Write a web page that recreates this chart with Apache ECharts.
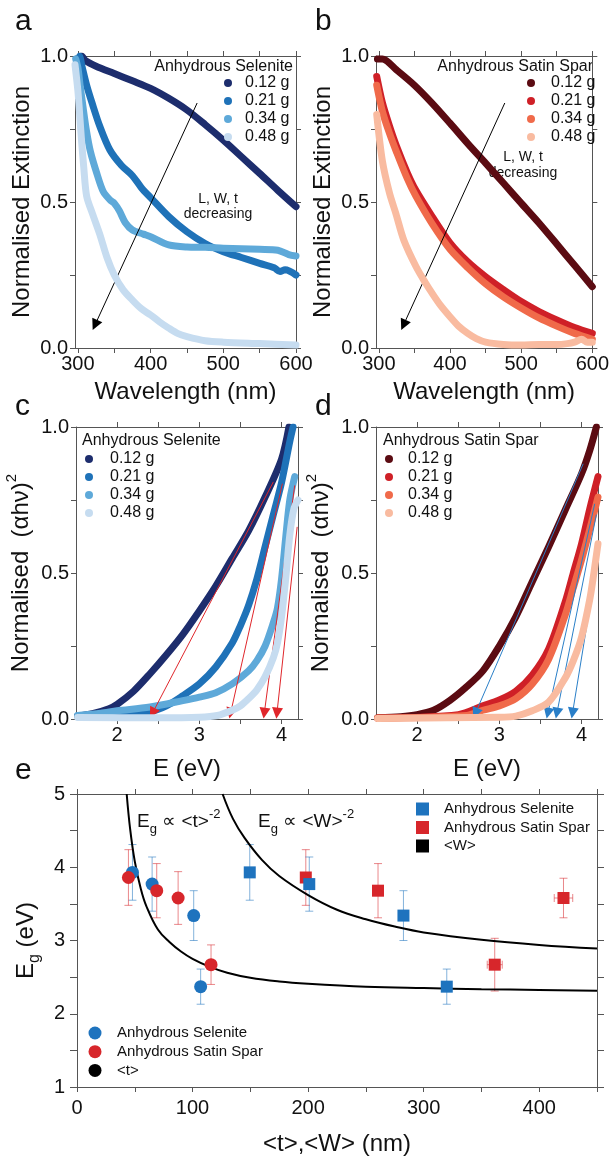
<!DOCTYPE html>
<html><head><meta charset="utf-8">
<script src="https://cdn.jsdelivr.net/npm/echarts@6/dist/echarts.min.js"></script>
<style>html,body{margin:0;padding:0;background:#fff}#c{width:612px;height:1157px}</style>
</head><body><div id="c"></div><script>
// ---------------- data ----------------
const MASSES = ['0.12 g', '0.21 g', '0.34 g', '0.48 g'];
const SEL_COLORS = ['#1d2d6d', '#1f72b8', '#5ea9d9', '#c6dcf0'];
const SPAR_COLORS = ['#5b0b12', '#cf2027', '#f06a4a', '#f9bba0'];

// panel a : Anhydrous Selenite extinction vs wavelength
const A_012 = [[300,0.99],[305,1.0],[310,0.985],[325,0.965],[350,0.94],[375,0.915],[400,0.889],[425,0.855],[450,0.815],[475,0.765],[500,0.712],[525,0.655],[550,0.598],[575,0.54],[600,0.484]];
const A_021 = [[298,0.97],[302,1.0],[306,0.96],[312,0.9],[320,0.835],[330,0.76],[344,0.678],[360,0.625],[375,0.59],[387,0.55],[400,0.515],[425,0.45],[450,0.398],[475,0.358],[500,0.33],[525,0.31],[550,0.29],[570,0.275],[578,0.262],[585,0.268],[600,0.25]];
const A_034 = [[297,0.99],[300,0.96],[303,0.9],[307,0.826],[312,0.74],[317,0.675],[326,0.598],[335,0.535],[345,0.505],[350,0.496],[357,0.47],[365,0.43],[375,0.404],[390,0.39],[400,0.381],[425,0.353],[450,0.346],[475,0.345],[500,0.342],[525,0.34],[550,0.338],[575,0.335],[590,0.32],[600,0.315]];
const A_048 = [[296,0.97],[300,0.88],[303,0.78],[305,0.71],[308,0.62],[312,0.52],[320,0.46],[330,0.39],[340,0.31],[350,0.25],[362,0.2],[375,0.164],[387,0.135],[400,0.113],[412,0.09],[425,0.068],[437,0.05],[450,0.039],[475,0.025],[500,0.02],[550,0.015],[600,0.01]];
// panel b : Anhydrous Satin Spar extinction vs wavelength
const B_012 = [[298,0.99],[305,0.99],[325,0.952],[350,0.9],[375,0.838],[400,0.77],[425,0.70],[450,0.633],[475,0.565],[500,0.496],[525,0.428],[550,0.356],[575,0.283],[600,0.21]];
const B_021 = [[297,0.93],[305,0.84],[315,0.76],[325,0.69],[340,0.6],[352,0.54],[375,0.45],[400,0.36],[425,0.295],[450,0.244],[475,0.2],[500,0.159],[525,0.125],[550,0.096],[575,0.07],[600,0.05]];
const B_034 = [[297,0.9],[305,0.81],[315,0.735],[325,0.67],[340,0.58],[352,0.52],[375,0.425],[400,0.338],[425,0.275],[450,0.22],[475,0.175],[500,0.137],[525,0.103],[550,0.075],[575,0.05],[600,0.03]];
const B_048 = [[297,0.80],[305,0.64],[315,0.53],[324,0.46],[335,0.37],[352,0.28],[365,0.225],[375,0.187],[387,0.145],[400,0.107],[412,0.075],[425,0.05],[437,0.032],[450,0.02],[475,0.012],[500,0.01],[525,0.012],[550,0.012],[565,0.015],[575,0.02],[585,0.03],[593,0.02],[600,0.02]];
// panel c : Selenite Tauc plot
const C_012 = [[1.52,0.01],[1.7,0.018],[1.9,0.035],[2.0,0.05],[2.2,0.095],[2.4,0.155],[2.6,0.22],[2.8,0.29],[3.0,0.37],[3.2,0.455],[3.4,0.55],[3.6,0.645],[3.8,0.76],[4.0,0.89],[4.09,1.0]];
const C_021 = [[1.52,0.01],[2.0,0.012],[2.4,0.025],[2.6,0.045],[2.8,0.08],[3.0,0.12],[3.2,0.178],[3.4,0.26],[3.5,0.32],[3.6,0.39],[3.7,0.48],[3.8,0.59],[3.9,0.7],[4.0,0.81],[4.1,0.95],[4.14,1.0]];
const C_034 = [[1.52,0.012],[1.8,0.02],[2.0,0.028],[2.4,0.041],[2.8,0.063],[3.0,0.075],[3.2,0.09],[3.4,0.12],[3.6,0.165],[3.7,0.2],[3.8,0.25],[3.9,0.33],[3.95,0.38],[4.0,0.48],[4.05,0.62],[4.1,0.75],[4.16,0.83]];
const C_048 = [[1.52,0.005],[2.5,0.004],[3.0,0.006],[3.22,0.012],[3.4,0.03],[3.5,0.045],[3.6,0.07],[3.7,0.1],[3.8,0.145],[3.9,0.21],[3.95,0.26],[4.0,0.35],[4.05,0.48],[4.1,0.63],[4.15,0.72],[4.2,0.75]];
// panel d : Satin Spar Tauc plot
const D_012 = [[1.52,0.004],[1.8,0.008],[2.0,0.015],[2.2,0.03],[2.4,0.064],[2.6,0.11],[2.8,0.165],[3.0,0.25],[3.2,0.35],[3.4,0.47],[3.6,0.59],[3.8,0.715],[4.0,0.84],[4.1,0.92],[4.18,1.0]];
const D_021 = [[1.52,0.003],[2.5,0.015],[2.8,0.045],[3.0,0.065],[3.2,0.095],[3.4,0.15],[3.6,0.24],[3.8,0.4],[3.9,0.5],[4.0,0.6],[4.1,0.72],[4.2,0.83]];
const D_034 = [[1.52,0.003],[2.6,0.012],[2.8,0.03],[3.0,0.045],[3.2,0.07],[3.4,0.12],[3.6,0.205],[3.8,0.355],[3.9,0.45],[4.0,0.545],[4.1,0.65],[4.2,0.76]];
const D_048 = [[1.52,0.002],[3.0,0.006],[3.2,0.01],[3.4,0.028],[3.6,0.058],[3.8,0.14],[3.9,0.2],[4.0,0.28],[4.1,0.41],[4.15,0.5],[4.2,0.6]];
// arrows (start -> end, data coords)
const A_ARROW = [[464,0.839],[323.5,0.079]];
const B_ARROW = [[477,0.839],[334.7,0.079]];
const C_ARROWS = [[[3.90,0.812],[2.43,0.02]],[[4.01,0.806],[3.38,0.02]],[[4.16,0.80],[3.79,0.02]],[[4.19,0.658],[3.944,0.02]]];
const D_ARROWS = [[[4.02,0.874],[2.71,0.02]],[[4.16,0.737],[3.59,0.02]],[[4.18,0.70],[3.70,0.02]],[[4.20,0.555],[3.89,0.02]]];
// panel e : band gap vs thickness <t> and width <W>
const T_SEL = [[48,3.93],[65,3.77],[101,3.34],[107,2.37]];
const T_SPAR = [[44.5,3.86],[69,3.68],[87.5,3.58],[116,2.67]];
const W_SEL = [[149.5,3.93],[201,3.77],[282.5,3.34],[320,2.37]];
const W_SPAR = [[198,3.86],[260.5,3.68],[361.5,2.67],[421,3.58]];
const ERR_SEL = [0.38,0.37,0.34,0.24];
const ERR_SPAR = [0.38,0.37,0.36,0.27];
const W_SEL_XERR = [0,0,0,3];
const W_SPAR_XERR = [0,0,6.5,8];
const FIT_T = [[43,5.0],[46,4.52],[50,4.08],[55,3.72],[60,3.47],[70,3.15],[80,2.98],[90,2.85],[100,2.75],[115,2.64],[130,2.56],[150,2.49],[175,2.44],[200,2.41],[250,2.37],[300,2.35],[350,2.335],[400,2.325],[450,2.315]];
const FIT_W = [[126,5.0],[135,4.66],[145,4.40],[160,4.10],[175,3.88],[200,3.62],[225,3.42],[250,3.29],[275,3.19],[300,3.11],[350,3.01],[400,2.94],[450,2.89]];
// ticks
const WL_LABELS = [300,400,500,600], WL_TICKS = [300,350,400,450,500,550,600];
const EV_LABELS = [2,3,4], EV_TICKS = [2,2.5,3,3.5,4];
const N_LABELS = [0,0.5,1], N_TICKS = [0,0.25,0.5,0.75,1];
const SZ_LABELS = [0,100,200,300,400], SZ_TICKS = [0,50,100,150,200,250,300,350,400,450];
const EG_LABELS = [1,2,3,4,5], EG_TICKS = [1,1.5,2,2.5,3,3.5,4,4.5,5];

// ---------------- styling helpers ----------------
const FONT = '"Liberation Sans", Arial, sans-serif';
const TXT = '#111';
const AX = '#555';
const BLUE = '#1e73be', RED = '#d7262b';
const SQUARE = 'path://M0,0H10V10H0Z';

function xPair(gi, min, max, labels, ticks, name, nameGap, margin) {
  const base = {gridIndex: gi, type: 'value', min, max,
    axisLine: {onZero: false, lineStyle: {color: AX, width: 1}},
    splitLine: {show: false},
    axisTick: {length: 5, customValues: ticks, lineStyle: {color: AX}}};
  return [
    Object.assign({}, base, {position: 'bottom',
      axisLabel: {customValues: labels, fontSize: 20, color: TXT, margin, fontFamily: FONT},
      name, nameLocation: 'middle', nameGap,
      nameTextStyle: {fontSize: 24, color: TXT, fontFamily: FONT}}),
    Object.assign({}, base, {position: 'top', axisLabel: {show: false}})
  ];
}
function yPair(gi, min, max, labels, ticks, fmt, name, nameGap, margin, tickLen, rich) {
  const base = {gridIndex: gi, type: 'value', min, max,
    axisLine: {onZero: false, lineStyle: {color: AX, width: 1}},
    splitLine: {show: false},
    axisTick: {length: tickLen, customValues: ticks, lineStyle: {color: AX}}};
  return [
    Object.assign({}, base, {position: 'left',
      axisLabel: {customValues: labels, fontSize: 20, color: TXT, margin, fontFamily: FONT, formatter: fmt},
      name, nameLocation: 'middle', nameGap,
      nameTextStyle: {fontSize: 24, color: TXT, fontFamily: FONT, rich: rich}}),
    Object.assign({}, base, {position: 'right', axisLabel: {show: false}})
  ];
}
const fmt1 = v => v.toFixed(1);
const fmt0 = v => String(v);
const SUP_RICH = {t: {fontSize: 24, fontFamily: FONT, color: TXT, lineHeight: 34},
                  s: {fontSize: 15, fontFamily: FONT, color: TXT, verticalAlign: 'top'}};
const SUB_RICH = {t: {fontSize: 24, fontFamily: FONT, color: TXT, lineHeight: 34},
                  s: {fontSize: 16, fontFamily: FONT, color: TXT, verticalAlign: 'bottom'}};

const xAxis = [].concat(
  xPair(0, 296, 600, WL_LABELS, WL_TICKS, 'Wavelength (nm)', 32, 6),
  xPair(1, 296, 600, WL_LABELS, WL_TICKS, 'Wavelength (nm)', 32, 6),
  xPair(2, 1.5, 4.2, EV_LABELS, EV_TICKS, 'E (eV)', 38, 6),
  xPair(3, 1.5, 4.2, EV_LABELS, EV_TICKS, 'E (eV)', 38, 6),
  xPair(4, 0, 450, SZ_LABELS, SZ_TICKS, '<t>,<W> (nm)', 45, 11)
);
const yAxis = [].concat(
  yPair(0, 0, 1, N_LABELS, N_TICKS, fmt1, 'Normalised Extinction', 41, 7, 5),
  yPair(1, 0, 1, N_LABELS, N_TICKS, fmt1, 'Normalised Extinction', 41, 7, 5),
  yPair(2, 0, 1, N_LABELS, N_TICKS, fmt1, '{t|Normalised  (\u03b1h\u03bd)}{s|2}', 38, 7, 5, SUP_RICH),
  yPair(3, 0, 1, N_LABELS, N_TICKS, fmt1, '{t|Normalised  (\u03b1h\u03bd)}{s|2}', 38, 7, 5, SUP_RICH),
  yPair(4, 1, 5, EG_LABELS, EG_TICKS, fmt0, '{t|E}{s|g}{t| (eV)}', 34, 12, 7, SUB_RICH)
);

function curve(prefix, gi, idx, data, color, arrows, arrowColor) {
  const s = {name: prefix + '|' + MASSES[idx], type: 'line', xAxisIndex: 2 * gi, yAxisIndex: 2 * gi,
    data, color, showSymbol: false, smooth: 0.3, clip: true, silent: true,
    itemStyle: {color},
    lineStyle: {width: 7, color, cap: 'round', join: 'round'}, z: 2 + idx};
  if (arrows) {
    s.markLine = {silent: true, symbol: ['none', 'triangle'], symbolSize: 11, animation: false,
      label: {show: false}, lineStyle: {color: arrowColor, width: 1, type: 'solid'},
      itemStyle: {color: arrowColor}, emphasis: {disabled: true},
      data: arrows.map(a => [{coord: a[0]}, {coord: a[1]}])};
  }
  return s;
}
function errBars(name, pts, err, xerr, color) {
  return {name: name + ' err', type: 'custom', xAxisIndex: 8, yAxisIndex: 8, silent: true, z: 1,
    data: pts.map((p, i) => [p[0], p[1], err[i], xerr ? xerr[i] : 0]),
    encode: {x: 0, y: 1},
    renderItem: function (params, api) {
      const x = api.value(0), y = api.value(1), e = api.value(2), xe = api.value(3);
      const top = api.coord([x, y + e]), bot = api.coord([x, y - e]);
      const c = 4, st = {stroke: color, lineWidth: 1};
      const ch = [
        {type: 'line', shape: {x1: top[0], y1: top[1], x2: bot[0], y2: bot[1]}, style: st},
        {type: 'line', shape: {x1: top[0] - c, y1: top[1], x2: top[0] + c, y2: top[1]}, style: st},
        {type: 'line', shape: {x1: bot[0] - c, y1: bot[1], x2: bot[0] + c, y2: bot[1]}, style: st}];
      if (xe > 0) {
        const l = api.coord([x - xe, y]), r = api.coord([x + xe, y]);
        ch.push({type: 'line', shape: {x1: l[0], y1: l[1], x2: r[0], y2: r[1]}, style: st});
        ch.push({type: 'line', shape: {x1: l[0], y1: l[1] - c, x2: l[0], y2: l[1] + c}, style: st});
        ch.push({type: 'line', shape: {x1: r[0], y1: r[1] - c, x2: r[0], y2: r[1] + c}, style: st});
      }
      return {type: 'group', children: ch};
    }};
}
function scat(name, pts, symbol, size, color, z) {
  return {name, type: 'scatter', xAxisIndex: 8, yAxisIndex: 8, data: pts, symbol, symbolSize: size,
    color, itemStyle: {color, opacity: 1}, silent: true, z};
}
function fit(name, pts) {
  return {name, type: 'line', xAxisIndex: 8, yAxisIndex: 8, data: pts, smooth: 0.4, showSymbol: false,
    color: '#000', itemStyle: {color: '#000'}, lineStyle: {color: '#000', width: 2}, clip: true, silent: true, z: 2};
}

const series = [
  curve('a', 0, 0, A_012, SEL_COLORS[0], [A_ARROW], '#000'),
  curve('a', 0, 1, A_021, SEL_COLORS[1]),
  curve('a', 0, 2, A_034, SEL_COLORS[2]),
  curve('a', 0, 3, A_048, SEL_COLORS[3]),
  curve('b', 1, 0, B_012, SPAR_COLORS[0], [B_ARROW], '#000'),
  curve('b', 1, 1, B_021, SPAR_COLORS[1]),
  curve('b', 1, 2, B_034, SPAR_COLORS[2]),
  curve('b', 1, 3, B_048, SPAR_COLORS[3]),
  curve('c', 2, 0, C_012, SEL_COLORS[0]),
  curve('c', 2, 1, C_021, SEL_COLORS[1]),
  curve('c', 2, 2, C_034, SEL_COLORS[2]),
  curve('c', 2, 3, C_048, SEL_COLORS[3], C_ARROWS, '#e0262b'),
  curve('d', 3, 0, D_012, SPAR_COLORS[0]),
  curve('d', 3, 1, D_021, SPAR_COLORS[1]),
  curve('d', 3, 2, D_034, SPAR_COLORS[2]),
  curve('d', 3, 3, D_048, SPAR_COLORS[3], D_ARROWS, '#2a7fc8'),
  fit('t|<t>', FIT_T),
  fit('w|<W>', FIT_W),
  errBars('tsel', T_SEL, ERR_SEL, null, 'rgba(30,115,190,0.55)'),
  errBars('tspar', T_SPAR, ERR_SPAR, null, 'rgba(215,38,43,0.55)'),
  errBars('wspar', W_SPAR, ERR_SPAR, W_SPAR_XERR, 'rgba(215,38,43,0.55)'),
  errBars('wsel', W_SEL, ERR_SEL, W_SEL_XERR, 'rgba(30,115,190,0.55)'),
  scat('t|Anhydrous Selenite', T_SEL, 'circle', 13, BLUE, 3),
  scat('t|Anhydrous Satin Spar', T_SPAR, 'circle', 13, RED, 4),
  scat('w|Anhydrous Satin Spar', W_SPAR, 'rect', 12, RED, 3),
  scat('w|Anhydrous Selenite', W_SEL, 'rect', 12, BLUE, 4)
];

const strip = n => n.split('|')[1];
function massLegend(prefix, left, top, w) {
  return {orient: 'vertical', left, top, itemWidth: w, itemHeight: 8, itemGap: 0, icon: 'circle',
    selectedMode: false, formatter: strip, padding: 0,
    textStyle: {fontSize: 16, lineHeight: 18, color: TXT, fontFamily: FONT},
    data: MASSES.map(m => prefix + '|' + m)};
}
const legend = [
  massLegend('a', 224, 74, 24),
  massLegend('b', 527, 74, 30),
  massLegend('c', 85, 450, 32),
  massLegend('d', 385, 450, 28),
  {orient: 'vertical', left: 416, top: 800, itemWidth: 33, itemHeight: 13, itemGap: 0.5,
   selectedMode: false, formatter: strip, padding: 0,
   textStyle: {fontSize: 15, lineHeight: 18, color: TXT, fontFamily: FONT},
   data: [{name: 'w|Anhydrous Selenite', icon: SQUARE}, {name: 'w|Anhydrous Satin Spar', icon: SQUARE}, {name: 'w|<W>', icon: SQUARE}]},
  {orient: 'vertical', left: 88.5, top: 1024, itemWidth: 34, itemHeight: 13, itemGap: 0.7,
   selectedMode: false, formatter: strip, padding: 0,
   textStyle: {fontSize: 15, lineHeight: 18, color: TXT, fontFamily: FONT},
   data: [{name: 't|Anhydrous Selenite', icon: 'circle'}, {name: 't|Anhydrous Satin Spar', icon: 'circle'}, {name: 't|<t>', icon: 'circle'}]}
];

function txt(x, y, text, size, align) {
  return {type: 'text', x, y, silent: true,
    style: {text, fontSize: size, fontFamily: FONT, fill: TXT, align: align || 'left', verticalAlign: 'middle'}};
}
const ANN_RICH = {t: {fontSize: 19, fontFamily: FONT, fill: TXT, lineHeight: 28},
                  s: {fontSize: 13, fontFamily: FONT, fill: TXT, verticalAlign: 'bottom'},
                  p: {fontSize: 13, fontFamily: FONT, fill: TXT, verticalAlign: 'top'}};
const graphic = [
  txt(15, 22, 'a', 30), txt(315, 22, 'b', 30), txt(15, 407, 'c', 30), txt(315, 407, 'd', 30), txt(15, 771, 'e', 30),
  txt(293, 67, 'Anhydrous Selenite', 16, 'right'),
  txt(593, 67, 'Anhydrous Satin Spar', 16, 'right'),
  txt(82, 441, 'Anhydrous Selenite', 16, 'left'),
  txt(383, 441, 'Anhydrous Satin Spar', 16, 'left'),
  {type: 'text', x: 218, y: 207, silent: true, style: {text: 'L, W, t\ndecreasing', fontSize: 14, lineHeight: 15, fontFamily: FONT, fill: TXT, align: 'center', verticalAlign: 'middle'}},
  {type: 'text', x: 523, y: 165, silent: true, style: {text: 'L, W, t\ndecreasing', fontSize: 14, lineHeight: 16, fontFamily: FONT, fill: TXT, align: 'center', verticalAlign: 'middle'}},
  {type: 'text', x: 137, y: 808, silent: true, style: {text: '{t|E}{s|g}{t| \u221d <t>}{p|-2}', rich: ANN_RICH, verticalAlign: 'top'}},
  {type: 'text', x: 258, y: 808, silent: true, style: {text: '{t|E}{s|g}{t| \u221d <W>}{p|-2}', rich: ANN_RICH, verticalAlign: 'top'}}
];

const chart = echarts.init(document.getElementById('c'), null, {renderer: 'canvas'});
chart.setOption({
  animation: false,
  backgroundColor: '#fff',
  textStyle: {fontFamily: FONT},
  grid: [
    {left: 75, top: 56, width: 221, height: 292},
    {left: 376, top: 56, width: 220, height: 292},
    {left: 76, top: 427, width: 222, height: 292},
    {left: 376, top: 427, width: 222, height: 292},
    {left: 77, top: 794, width: 520, height: 293}
  ],
  xAxis, yAxis, series, legend, graphic
});
</script></body></html>
